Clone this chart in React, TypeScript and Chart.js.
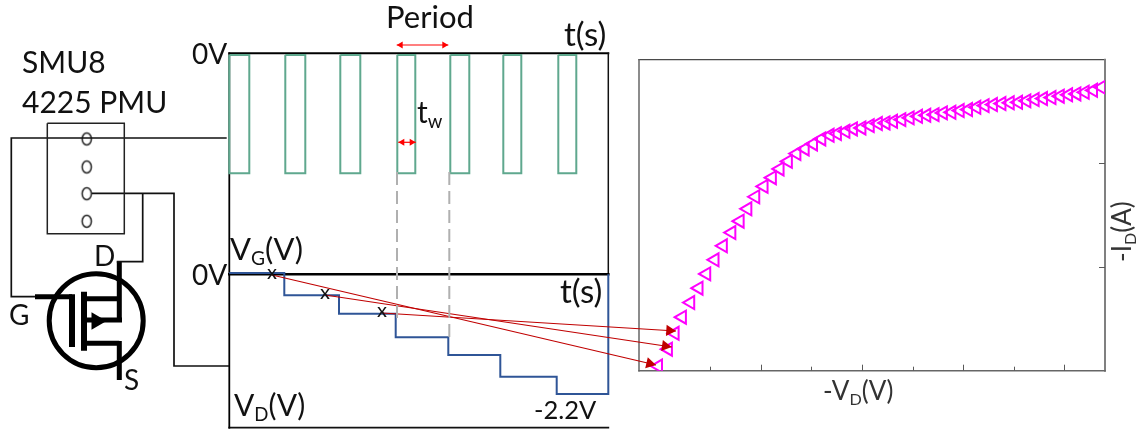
import React, { useEffect, useRef } from "react";
import { Chart, registerables } from "chart.js";

Chart.register(...registerables);

// ---------- Gate pulse train (arbitrary time units, volts) ----------
const pulseStarts = [0, 56, 111, 168, 221, 274, 329];
const pulseEnds = [20, 76, 131, 186, 240, 292, 347];
const pulseIdle = -0.015;
const pulseLevel = -1;

// ---------- Drain staircase ----------
const drainTimes = [0, 55, 109.7, 166.4, 219, 271, 327.4, 379, 379];
const drainVolts = [0, -0.405, -0.74, -1.169, -1.491, -1.885, -2.2, -2.2, -0.024];

// ---------- Output curve ----------
const vdValues = [
  -0.005, 0.044, 0.077, 0.113, 0.154, 0.195, 0.233, 0.274, 0.315, 0.357, 0.398, 0.436, 0.475, 0.516,
  0.557, 0.595, 0.636, 0.678, 0.719, 0.76, 0.801, 0.842, 0.878, 0.92, 0.957, 0.999, 1.04, 1.08, 1.118,
  1.155, 1.196, 1.237, 1.278, 1.319, 1.36, 1.401, 1.443, 1.484, 1.525, 1.566, 1.607, 1.648, 1.69, 1.731,
  1.772, 1.813, 1.854, 1.895, 1.937, 1.978, 2.019, 2.06, 2.101, 2.142, 2.183,
];
const idValues = [
  0.045, 0.207, 0.361, 0.516, 0.657, 0.796, 0.934, 1.07, 1.205, 1.333, 1.442, 1.562, 1.678, 1.778,
  1.862, 1.946, 2.019, 2.094, 2.139, 2.187, 2.236, 2.271, 2.287, 2.309, 2.332, 2.342, 2.364, 2.384, 2.39,
  2.406, 2.422, 2.439, 2.454, 2.464, 2.47, 2.487, 2.493, 2.509, 2.519, 2.541, 2.557, 2.567, 2.577, 2.584,
  2.589, 2.603, 2.616, 2.625, 2.635, 2.648, 2.661, 2.67, 2.686, 2.705, 2.734,
];
const xMajorTicks = [0.5, 1, 1.5, 2];
const xMinorTicks = [0.25, 0.75, 1.25, 1.75];
const yTicks = [1, 2];

// ---------- Circuit diagram (diagram units) ----------
type P = [number, number];
const pmuBox: P[] = [[47.3, 123.3], [124.3, 123.3], [124.3, 233.7], [47.3, 233.7], [47.3, 123.3]];
const gateWire: P[] = [[226.7, 138], [11.3, 138], [11.3, 296.7], [35, 296.7]];
const driveWire: P[] = [[91.7, 193.3], [174, 193.3], [174, 366], [229, 366]];
const drainWire: P[] = [[142.7, 193.3], [142.7, 261.7], [116.7, 261.7]];
const gateLead: P[] = [[35, 296.7], [72, 296.7]];
const gatePlate: P[] = [[72, 294.2], [72, 347]];
const channel: P[] = [[84, 291.7], [84, 350.7]];
const drainLead: P[] = [[84, 298.7], [119.3, 298.7]];
const drainPin: P[] = [[119.3, 261.7], [119.3, 321.7]];
const bodyLead: P[] = [[84, 320], [122, 320]];
const sourceLead: P[] = [[84, 343.3], [119.3, 343.3]];
const sourcePin: P[] = [[119.3, 341], [119.3, 380]];
const terminals: P[] = [[86.7, 139], [86.7, 167], [86.7, 193.7], [86.7, 221.3]];
const mosfetRing: P[] = [[96.2, 320.8]];
const bodyArrow: P[] = [[96.5, 321]];
const dashA: P[] = [[397, 172], [397, 321]];
const dashB: P[] = [[449.3, 172], [449.3, 337]];
const periodArrow: P[] = [[396.7, 45], [448.3, 45]];
const widthArrow: P[] = [[398.3, 142.3], [415.7, 142.3]];
const linkA: P[] = [[272, 275], [656, 365]];
const linkB: P[] = [[325, 295], [671.7, 347]];
const linkC: P[] = [[382, 313], [676, 331]];

// main text, subscript, trailing text, x, y, size, colour, rotation
type Label = { t: string; s?: string; e?: string; x: number; y: number; z: number; c?: string; r?: number };
const labels: Label[] = [
  { t: "SMU8", x: 22, y: 63, z: 30 },
  { t: "4225 PMU", x: 22, y: 103, z: 30 },
  { t: "D", x: 94, y: 257, z: 28 },
  { t: "G", x: 9, y: 316, z: 28 },
  { t: "S", x: 124, y: 381, z: 28 },
  { t: "0V", x: 192, y: 55, z: 28 },
  { t: "0V", x: 192, y: 276, z: 28 },
  { t: "Period", x: 386, y: 18, z: 31 },
  { t: "t(s)", x: 564, y: 35, z: 33 },
  { t: "t", s: "w", x: 417, y: 113, z: 30 },
  { t: "t(s)", x: 560, y: 292, z: 33 },
  { t: "V", s: "G", e: "(V)", x: 230, y: 250, z: 31 },
  { t: "V", s: "D", e: "(V)", x: 234, y: 406, z: 30 },
  { t: "-2.2V", x: 534, y: 411, z: 25.5 },
  { t: "x", x: 267, y: 273, z: 20 },
  { t: "x", x: 320, y: 293, z: 20 },
  { t: "x", x: 377, y: 311, z: 20 },
  { t: "-V", s: "D", e: "(V)", x: 823, y: 392, z: 26, c: "#333333" },
  { t: "-I", s: "D", e: "(A)", x: 1123, y: 262, z: 26, c: "#333333", r: -90 },
];

const FONT = "Lato, 'Open Sans', sans-serif";
const W = 1144;
const H = 431;

const xy = (pts: P[]) => pts.map(([x, y]) => ({ x, y }));

const line = (pts: P[], color: string, width: number, dash: number[] = []) => ({
  data: xy(pts),
  showLine: true,
  borderColor: color,
  borderWidth: width,
  borderDash: dash,
  pointRadius: 0,
  borderCapStyle: "butt",
  borderJoinStyle: "miter",
  clip: false,
  tension: 0,
});

const marks = (pts: P[], style: any, radius: number, stroke: string, fill: string, width: number, rot = 0) => ({
  data: xy(pts),
  showLine: false,
  pointStyle: style,
  pointRadius: radius,
  pointBorderColor: stroke,
  pointBackgroundColor: fill,
  pointBorderWidth: width,
  pointRotation: rot,
  clip: false,
});

const ovalSprite = () => {
  const c = document.createElement("canvas");
  c.width = 14;
  c.height = 17;
  const g = c.getContext("2d")!;
  g.strokeStyle = "#222222";
  g.lineWidth = 1.5;
  g.beginPath();
  g.ellipse(7, 8.5, 4.6, 6, 0, 0, Math.PI * 2);
  g.stroke();
  return c;
};

const head = (from: P, tip: P, color: string, r: number) => {
  const dx = tip[0] - from[0];
  const dy = tip[1] - from[1];
  const len = Math.hypot(dx, dy);
  const c: P = [tip[0] - (dx / len) * r, tip[1] - (dy / len) * r];
  return marks([c], "triangle", r, color, color, 0, (Math.atan2(dy, dx) * 180) / Math.PI + 90);
};

const arrow = (pts: P[], color: string, width: number, r: number, both: boolean) => {
  const out: any[] = [line(pts, color, width), head(pts[0], pts[1], color, r)];
  if (both) out.push(head(pts[1], pts[0], color, r));
  return out;
};

const pad = (l: number, t: number, r: number, b: number) => ({ left: l, top: t, right: W - r, bottom: H - b });

const hidden = (min: number, max: number, reverse = false) => ({
  type: "linear" as const,
  display: false,
  min,
  max,
  reverse,
});

const common = (padding: any, x: any, y: any) => ({
  responsive: false,
  animation: false as const,
  devicePixelRatio: 1,
  events: [] as any[],
  layout: { padding, autoPadding: false },
  scales: { x, y },
  plugins: { legend: { display: false }, tooltip: { enabled: false } },
});

type Side = { color: string; width: number } | null;
const framePlugin = (top: Side, right: Side, bottom: Side, left: Side) => ({
  id: "frame",
  beforeDatasetsDraw(chart: any) {
    const { ctx, chartArea: a } = chart;
    const seg = (s: Side, x1: number, y1: number, x2: number, y2: number) => {
      if (!s) return;
      ctx.save();
      ctx.strokeStyle = s.color;
      ctx.lineWidth = s.width;
      ctx.lineCap = "square";
      ctx.beginPath();
      ctx.moveTo(x1, y1);
      ctx.lineTo(x2, y2);
      ctx.stroke();
      ctx.restore();
    };
    seg(top, a.left, a.top, a.right, a.top);
    seg(right, a.right, a.top, a.right, a.bottom);
    seg(bottom, a.left, a.bottom, a.right, a.bottom);
    seg(left, a.left, a.top, a.left, a.bottom);
  },
});

const ivTicksPlugin = {
  id: "ivTicks",
  beforeDatasetsDraw(chart: any) {
    const { ctx, chartArea: a, scales } = chart;
    ctx.save();
    ctx.strokeStyle = "#595959";
    ctx.lineWidth = 1;
    const tick = (x1: number, y1: number, x2: number, y2: number) => {
      ctx.beginPath();
      ctx.moveTo(x1, y1);
      ctx.lineTo(x2, y2);
      ctx.stroke();
    };
    xMajorTicks.forEach((v) => {
      const p = Math.round(scales.x.getPixelForValue(v)) + 0.5;
      tick(p, a.bottom, p, a.bottom - 6);
    });
    xMinorTicks.forEach((v) => {
      const p = Math.round(scales.x.getPixelForValue(v)) + 0.5;
      tick(p, a.bottom, p, a.bottom - 4);
    });
    yTicks.forEach((v) => {
      const p = Math.round(scales.y.getPixelForValue(v)) + 0.5;
      tick(a.right, p, a.right - 6, p);
    });
    ctx.restore();
  },
};

const labelPlugin = {
  id: "labels",
  afterDatasetsDraw(chart: any) {
    const { ctx, scales } = chart;
    labels.forEach((l) => {
      ctx.save();
      ctx.translate(scales.x.getPixelForValue(l.x), scales.y.getPixelForValue(l.y));
      if (l.r) ctx.rotate((l.r * Math.PI) / 180);
      ctx.fillStyle = l.c || "#111111";
      ctx.textBaseline = "middle";
      ctx.textAlign = "left";
      let cx = 0;
      const piece = (text: string, size: number, dy: number) => {
        ctx.font = `${size}px ${FONT}`;
        ctx.fillText(text, cx, dy);
        cx += ctx.measureText(text).width;
      };
      piece(l.t, l.z, 0);
      if (l.s) piece(l.s, l.z * 0.62, l.z * 0.3);
      if (l.e) piece(l.e, l.z, 0);
      ctx.restore();
    });
  },
};

const pulseData = () => {
  const out: any[] = [];
  pulseStarts.forEach((s, i) => {
    const e = pulseEnds[i];
    out.push(
      { x: s, y: pulseIdle },
      { x: s, y: pulseLevel },
      { x: e, y: pulseLevel },
      { x: e, y: pulseIdle },
      { x: s, y: pulseIdle },
      { x: e, y: null }
    );
  });
  return out;
};

export default function App() {
  const ivRef = useRef<HTMLCanvasElement>(null);
  const gateRef = useRef<HTMLCanvasElement>(null);
  const drainRef = useRef<HTMLCanvasElement>(null);
  const schemeRef = useRef<HTMLCanvasElement>(null);

  useEffect(() => {
    const charts: Chart[] = [];

    charts.push(
      new Chart(ivRef.current!, {
        type: "scatter",
        data: {
          datasets: [
            {
              data: vdValues.map((x, i) => ({ x, y: idValues[i] })),
              showLine: false,
              pointStyle: "triangle",
              pointRotation: 270,
              pointRadius: 7.5,
              pointBorderColor: "#FF00FF",
              pointBackgroundColor: "rgba(0,0,0,0)",
              pointBorderWidth: 2,
            },
          ],
        },
        options: common(pad(639, 59.7, 1105, 370.7), hidden(-0.1, 2.2), hidden(0, 3)) as any,
        plugins: [
          framePlugin(
            { color: "#4A4A4A", width: 1.3 },
            { color: "#808080", width: 2 },
            { color: "#666666", width: 1.5 },
            { color: "#666666", width: 1.5 }
          ),
          ivTicksPlugin,
        ],
      } as any)
    );

    charts.push(
      new Chart(gateRef.current!, {
        type: "scatter",
        data: {
          datasets: [
            {
              data: pulseData(),
              showLine: true,
              spanGaps: false,
              borderColor: "#5FA88E",
              borderWidth: 2,
              pointRadius: 0,
              clip: false,
            },
          ],
        },
        options: common(pad(229.3, 53.3, 608.3, 273), hidden(0, 379), hidden(-1.831, 0)) as any,
        plugins: [
          framePlugin({ color: "#000000", width: 2 }, { color: "#111111", width: 1.5 }, null, { color: "#000000", width: 1.8 }),
        ],
      } as any)
    );

    charts.push(
      new Chart(drainRef.current!, {
        type: "scatter",
        data: {
          datasets: [
            {
              data: drainTimes.map((x, i) => ({ x, y: drainVolts[i] })),
              showLine: true,
              stepped: "before",
              borderColor: "#2F5597",
              borderWidth: 2,
              pointRadius: 0,
              clip: false,
            },
          ],
        },
        options: common(pad(229.3, 274.3, 608.3, 427.7), hidden(0, 379), hidden(-2.813, -0.024)) as any,
        plugins: [
          framePlugin({ color: "#000000", width: 2.6 }, null, { color: "#111111", width: 1.8 }, { color: "#000000", width: 1.8 }),
        ],
      } as any)
    );

    const K = "#111111";
    const R = "#C00000";
    charts.push(
      new Chart(schemeRef.current!, {
        type: "scatter",
        data: {
          datasets: [
            line(dashA, "#B0B0B0", 2, [13, 6]),
            line(dashB, "#B0B0B0", 2, [13, 6]),
            line(pmuBox, "#222222", 1.5),
            line(gateWire, K, 1.7),
            line(driveWire, K, 1.7),
            line(drainWire, K, 1.7),
            marks(terminals, ovalSprite(), 6, "#222222", "rgba(0,0,0,0)", 1.5),
            marks(mosfetRing, "circle", 47, "#000000", "rgba(0,0,0,0)", 5),
            line(gateLead, "#000000", 5),
            line(gatePlate, "#000000", 6),
            line(channel, "#000000", 6),
            line(drainLead, "#000000", 5),
            line(drainPin, "#000000", 5),
            line(bodyLead, "#000000", 5),
            line(sourceLead, "#000000", 5),
            line(sourcePin, "#000000", 5),
            marks(bodyArrow, "triangle", 10, "#000000", "#000000", 0, 90),
            ...arrow(periodArrow, "#FF0000", 1.2, 4, true),
            ...arrow(widthArrow, "#FF0000", 1.2, 4, true),
            ...arrow(linkA, R, 1.1, 6.5, false),
            ...arrow(linkB, R, 1.1, 6.5, false),
            ...arrow(linkC, R, 1.1, 6.5, false),
          ],
        },
        options: common(0, hidden(0, W), hidden(0, H, true)) as any,
        plugins: [labelPlugin],
      } as any)
    );

    return () => charts.forEach((c) => c.destroy());
  }, []);

  const style: React.CSSProperties = { position: "absolute", left: 0, top: 0, display: "block" };
  return (
    <div style={{ position: "absolute", left: 0, top: 0, width: W, height: H, overflow: "hidden", background: "#fff" }}>
      <canvas ref={ivRef} width={W} height={H} style={style} />
      <canvas ref={gateRef} width={W} height={H} style={style} />
      <canvas ref={drainRef} width={W} height={H} style={style} />
      <canvas ref={schemeRef} width={W} height={H} style={style} />
    </div>
  );
}
